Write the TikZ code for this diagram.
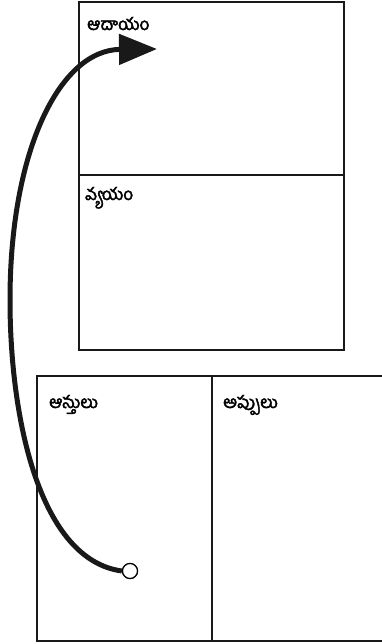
\documentclass[tikz,border=0pt]{standalone}
\usepackage{fontspec}
\newfontfamily\telugu[Script=Telugu, AutoFakeBold=2.5]{Hind Guntur}
\usetikzlibrary{arrows.meta}

\begin{document}
\begin{tikzpicture}[
        x=1pt, y=-1pt,
        panel/.style={rectangle, draw=black!90, line width=2.2pt, fill=none, inner sep=0pt, outer sep=0pt, anchor=north west},
        lbl/.style={anchor=base west, inner sep=0pt, font=\telugu\bfseries\fontsize{17}{20}\selectfont},
        flow/.style={line width=5pt, draw=black!90, -{Triangle[length=38pt, width=30pt]}}
        ]
        \useasboundingbox (0,0) rectangle (381,644);

        % Top pair of panels
        \node[panel, minimum width=265, minimum height=173] (income) at (79,2) {};
        \node[panel, minimum width=265, minimum height=175] (expense) at (79,175) {};

        % Bottom pair of panels
        \node[panel, minimum width=175, minimum height=265] (assets) at (37,376) {};
        \node[panel, minimum width=171, minimum height=265] (liabilities) at (212,376) {};

        % Labels
        \node[lbl] (incomelbl) at ([shift={(8,28)}]income.north west) {ఆదాయం};
        \node[lbl] (expenselbl) at ([shift={(6,25)}]expense.north west) {వ్యయం};
        \node[lbl] (assetslbl) at ([shift={(12,32)}]assets.north west) {ఆస్తులు};
        \node[lbl] (liabilitieslbl) at ([shift={(11,32)}]liabilities.north west) {అప్పులు};

        % Flow from assets up to income
        \node[circle, draw=black, line width=1.2pt, fill=white, minimum size=15pt, inner sep=0pt] (start) at (130,571) {};
        \coordinate (tip) at (157,49);
        \draw[flow] (start.west) .. controls (40,560) and (10,420) .. (10,300)
                                 .. controls (10,150) and (60,50) .. (tip);
        \node[circle, draw=black, line width=1.2pt, fill=white, minimum size=15pt, inner sep=0pt] at (start) {};

    \end{tikzpicture}
\end{document}
